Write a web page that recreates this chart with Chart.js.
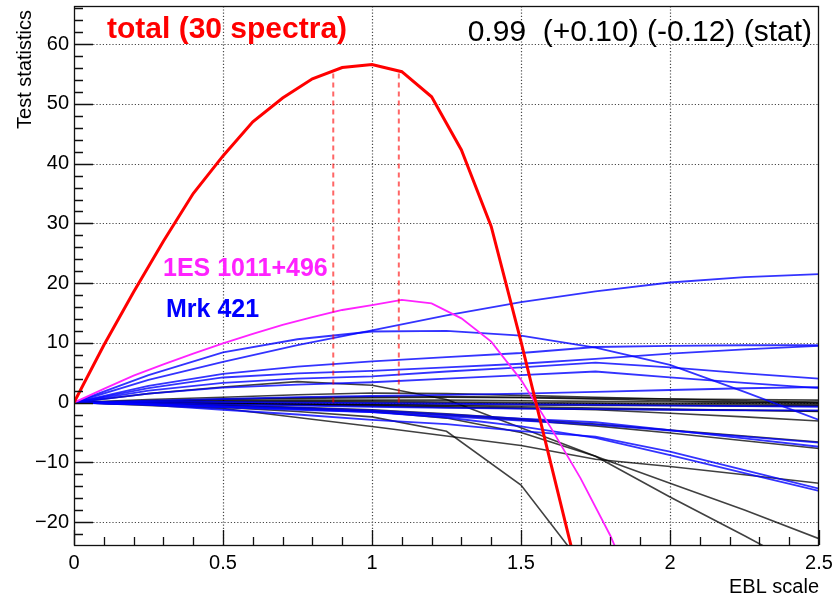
<!DOCTYPE html>
<html>
<head>
<meta charset="utf-8">
<script src="https://cdn.jsdelivr.net/npm/chart.js@4.4.0/dist/chart.umd.min.js"></script>
<style>
  html, body { margin: 0; padding: 0; background: #fff; }
</style>
</head>
<body>
<canvas id="tsChart" width="836" height="597"></canvas>
<script>
// EBL scale grid used by the individual spectra
var ebl = [0, 0.25, 0.5, 0.75, 1.0, 1.25, 1.5, 1.75, 2.0, 2.25, 2.5];

// total (sum of 30 spectra), sampled every 0.1
var totalX = [0, 0.1, 0.2, 0.3, 0.4, 0.5, 0.6, 0.7, 0.8, 0.9, 1.0, 1.1, 1.2, 1.3, 1.4, 1.5, 1.6, 1.7];
var totalTS = [0, 9.6, 18.5, 27, 35, 41.3, 47, 51, 54.2, 56.1, 56.6, 55.4, 51.2, 42.3, 29.5, 10.2, -10.2, -30.5];

// 1ES 1011+496
var es1011X = [0, 0.1, 0.2, 0.3, 0.4, 0.5, 0.6, 0.7, 0.8, 0.9, 1.0, 1.1, 1.2, 1.3, 1.4, 1.5, 1.6, 1.7, 1.8, 1.9];
var es1011TS = [0, 2.3, 4.5, 6.4, 8.2, 9.9, 11.5, 13.0, 14.3, 15.5, 16.3, 17.2, 16.6, 14.1, 10.2, 3.8, -4.2, -12.7, -22.3, -34];

// best fit and stat errors
var bestFit = 0.99;
var errPlus = 0.10;
var errMinus = 0.12;
var tsAtLow = 55.2;
var tsAtHigh = 55.6;

// blue spectra (Mrk 421 is the first)
var mrk421 = [0, 3.8, 6.8, 9.6, 12.1, 14.6, 16.8, 18.6, 20.1, 21.0, 21.5];
var blue2 = [0, 4.6, 8.4, 10.6, 11.9, 12.0, 11.2, 9.2, 6.3, 1.8, -2.9];
var blue3 = [0, 2.8, 4.8, 6.0, 6.9, 7.6, 8.3, 9.3, 9.5, 9.6, 9.6];
var blue4 = [0, 2.4, 4.2, 4.9, 5.3, 5.9, 6.5, 7.3, 8.2, 8.9, 9.5];
var blue5 = [0, 2.0, 3.3, 4.0, 4.4, 5.2, 5.9, 6.7, 5.9, 4.9, 4.0];
var blue6 = [0, 1.5, 2.5, 3.0, 3.4, 4.0, 4.6, 5.2, 4.2, 3.3, 2.4];
var blue7 = [0, 0.3, 0.6, 0.9, 1.1, 1.3, 1.5, 1.8, 2.1, 2.4, 2.6];
var blue8 = [0, 0.1, 0.1, 0.0, -0.1, -0.2, -0.3, -0.4, -0.5, -0.6, -0.7];
var blue9 = [0, -0.1, -0.3, -0.5, -0.7, -0.9, -1.0, -1.1, -1.2, -1.3, -1.3];
var blue10 = [0, -0.3, -0.6, -0.9, -1.3, -2.0, -2.7, -3.3, -4.6, -6.0, -7.4];
var blue11 = [0, -0.3, -0.7, -1.1, -1.6, -2.3, -3.0, -3.7, -4.7, -5.7, -6.7];
var blue12 = [0, -0.4, -1.2, -2.0, -2.9, -3.6, -4.8, -5.7, -8.2, -11.3, -14.4];
var blue13 = [0, -0.3, -0.8, -1.2, -1.6, -2.5, -4.0, -5.9, -8.8, -11.8, -14.8];

// black spectra
var black1 = [0, 1.5, 2.6, 3.5, 2.9, 0.5, -4.2, -9.0, -13.5, -18.0, -22.8];
var black2 = [0, -0.3, -0.8, -1.5, -2.4, -4.8, -13.8, -30, null, null, null];
var black3 = [0, -0.3, -0.6, -1.0, -1.5, -2.6, -5.0, -9.0, -15.8, -22.3, -29];
var black4 = [0, -0.5, -1.0, -2.5, -4.0, -5.6, -7.2, -9.5, -10.7, -12.1, -13.5];
var black5 = [0, -0.2, -0.5, -0.9, -1.4, -2.1, -2.9, -3.9, -5.1, -6.4, -7.7];
var black6 = [0, -0.2, -0.4, -0.8, -1.2, -1.9, -2.7, -3.6, -4.6, -5.6, -6.6];
var black7 = [0, -0.1, -0.2, -0.3, -0.5, -0.7, -0.9, -1.2, -1.8, -2.4, -3.1];
var black8 = [0, 0.5, 0.9, 1.3, 1.6, 1.5, 1.2, 0.9, 0.6, 0.3, 0.1];
var black9 = [0, 0.3, 0.6, 0.8, 1.0, 1.0, 0.9, 0.7, 0.6, 0.5, 0.4];
var black10 = [0, 0.2, 0.3, 0.4, 0.4, 0.4, 0.3, 0.2, 0.1, 0.0, 0.0];
var black11 = [0, 0.1, 0.1, 0.1, 0.0, -0.1, -0.2, -0.3, -0.4, -0.4, -0.5];
var black12 = [0, -0.1, -0.2, -0.3, -0.3, -0.4, -0.4, -0.5, -0.5, -0.6, -0.6];
var black13 = [0, 0.0, -0.1, -0.2, -0.3, -0.5, -0.7, -0.9, -1.1, -1.3, -1.5];
var black14 = [0, -0.1, -0.3, -0.4, -0.6, -0.8, -1.0, -1.1, -1.2, -1.3, -1.4];
var black15 = [0, 0.1, 0.2, 0.2, 0.2, 0.1, 0.0, -0.1, -0.2, -0.2, -0.3];
var black16 = [0, 0.2, 0.5, 0.7, 0.8, 0.9, 0.8, 0.6, 0.3, 0.1, -0.1];

var blueSpectra = [mrk421, blue2, blue3, blue4, blue5, blue6, blue7, blue8, blue9, blue10, blue11, blue12, blue13];
var blackSpectra = [black1, black2, black3, black4, black5, black6, black7, black8, black9, black10, black11, black12, black13, black14, black15, black16];

var FONT = "'Liberation Sans', Arial, Helvetica, sans-serif";

function toPoints(xs, ys) {
    var pts = [];
    for (var i = 0; i < xs.length; i++) {
        pts.push({ x: xs[i], y: ys[i] });
    }
    return pts;
}

function lineSet(xs, ys, color, width) {
    return {
        data: toPoints(xs, ys),
        borderColor: color,
        borderWidth: width,
        pointRadius: 0,
        tension: 0,
        fill: false
    };
}

var datasets = [];
datasets.push(lineSet(totalX, totalTS, '#ff0000', 3));
var low = bestFit - errMinus;
var high = bestFit + errPlus;
var dashLow = lineSet([low, low], [0, tsAtLow], 'rgba(255,0,0,0.6)', 2);
dashLow.borderDash = [5, 4];
var dashHigh = lineSet([high, high], [0, tsAtHigh], 'rgba(255,0,0,0.6)', 2);
dashHigh.borderDash = [5, 4];
datasets.push(dashLow, dashHigh);
datasets.push(lineSet(es1011X, es1011TS, '#ff22ff', 1.8));
blueSpectra.forEach(function (s) {
    datasets.push(lineSet(ebl, s, 'rgba(0,0,255,0.8)', 1.8));
});
blackSpectra.forEach(function (s) {
    datasets.push(lineSet(ebl, s, 'rgba(0,0,0,0.75)', 1.6));
});

// dotted grid under the curves
var rootGrid = {
    id: 'rootGrid',
    beforeDatasetsDraw: function (chart) {
        var ctx = chart.ctx;
        var a = chart.chartArea;
        var xs = chart.scales.x;
        var ys = chart.scales.y;
        ctx.save();
        ctx.strokeStyle = 'rgba(40,40,40,0.85)';
        ctx.lineWidth = 1.2;
        ctx.setLineDash([1.2, 2]);
        ctx.beginPath();
        xs.ticks.forEach(function (t) {
            if (t.value <= 0 || t.value >= 2.5) return;
            var px = Math.round(xs.getPixelForValue(t.value)) + 0.5;
            ctx.moveTo(px, a.bottom);
            ctx.lineTo(px, a.top);
        });
        ys.ticks.forEach(function (t) {
            var py = Math.round(ys.getPixelForValue(t.value)) + 0.5;
            ctx.moveTo(a.left, py);
            ctx.lineTo(a.right, py);
        });
        ctx.stroke();
        ctx.restore();
    }
};

// frame, inner ticks and text in ROOT style
var rootDecor = {
    id: 'rootDecor',
    afterDraw: function (chart) {
        var ctx = chart.ctx;
        var a = chart.chartArea;
        var xs = chart.scales.x;
        var ys = chart.scales.y;
        ctx.save();
        ctx.strokeStyle = '#111';
        ctx.lineWidth = 1.3;
        ctx.beginPath();
        for (var i = 0; i <= 25; i++) {
            var v = i / 10;
            var px = Math.round(xs.getPixelForValue(v)) + 0.5;
            var len = (i % 5 === 0) ? 15 : 8;
            ctx.moveTo(px, a.bottom);
            ctx.lineTo(px, a.bottom - len);
        }
        for (var j = -22; j <= 66; j += 2) {
            var py = Math.round(ys.getPixelForValue(j)) + 0.5;
            var l2 = (j % 10 === 0) ? 19 : 9;
            ctx.moveTo(a.left, py);
            ctx.lineTo(a.left + l2, py);
        }
        ctx.stroke();
        ctx.strokeRect(a.left + 0.5, a.top + 0.5, a.right - a.left - 1, a.bottom - a.top);

        // texts
        ctx.textBaseline = 'alphabetic';
        ctx.fillStyle = '#ff0000';
        ctx.textAlign = 'left';
        ctx.font = 'bold 30px ' + FONT;
        ctx.fillText('total (' + (blueSpectra.length + blackSpectra.length + 1) + ' spectra)', 107, 38);

        ctx.fillStyle = '#000';
        ctx.textAlign = 'right';
        ctx.font = '30px ' + FONT;
        ctx.fillText(bestFit.toFixed(2) + '  (+' + errPlus.toFixed(2) + ') (-' + errMinus.toFixed(2) + ') (stat)', 812, 41);

        ctx.textAlign = 'left';
        ctx.font = 'bold 25px ' + FONT;
        ctx.fillStyle = '#ff22ff';
        ctx.fillText('1ES 1011+496', 163, 276);
        ctx.fillStyle = '#0000ff';
        ctx.fillText('Mrk 421', 166, 317);

        ctx.fillStyle = '#000';
        ctx.font = '20px ' + FONT;
        ctx.textAlign = 'right';
        ctx.fillText('EBL scale', 819, 593);

        ctx.translate(31, 10);
        ctx.rotate(-Math.PI / 2);
        ctx.textAlign = 'right';
        ctx.fillText('Test statistics', 0, 0);
        ctx.restore();
    }
};

var ctx = document.getElementById('tsChart').getContext('2d');
var tsChart = new Chart(ctx, {
    type: 'line',
    data: { datasets: datasets },
    options: {
        responsive: false,
        animation: false,
        devicePixelRatio: 1,
        layout: { padding: { left: 0, top: 6, right: 17, bottom: 0 } },
        plugins: {
            legend: { display: false },
            tooltip: { enabled: false }
        },
        scales: {
            x: {
                type: 'linear',
                min: 0,
                max: 2.5,
                afterFit: function (scale) {
                    scale.height = 52;
                    scale.paddingLeft = 0;
                    scale.paddingRight = 0;
                },
                ticks: {
                    stepSize: 0.5,
                    includeBounds: false,
                    maxRotation: 0,
                    padding: 6,
                    color: '#000',
                    font: { family: FONT, size: 20 },
                    callback: function (v) { return String(Math.round(v * 10) / 10); }
                },
                grid: { display: false, drawTicks: false },
                border: { display: false }
            },
            y: {
                type: 'linear',
                min: -23.85,
                max: 66.4,
                afterFit: function (scale) {
                    scale.width = 74;
                    scale.paddingTop = 0;
                    scale.paddingBottom = 0;
                },
                ticks: {
                    stepSize: 10,
                    includeBounds: false,
                    padding: 5,
                    color: '#000',
                    font: { family: FONT, size: 20 },
                    callback: function (v) { return v < 0 ? '\u2212' + Math.abs(v) : String(v); }
                },
                grid: { display: false, drawTicks: false },
                border: { display: false }
            }
        }
    },
    plugins: [rootGrid, rootDecor]
});
</script>
</body>
</html>
